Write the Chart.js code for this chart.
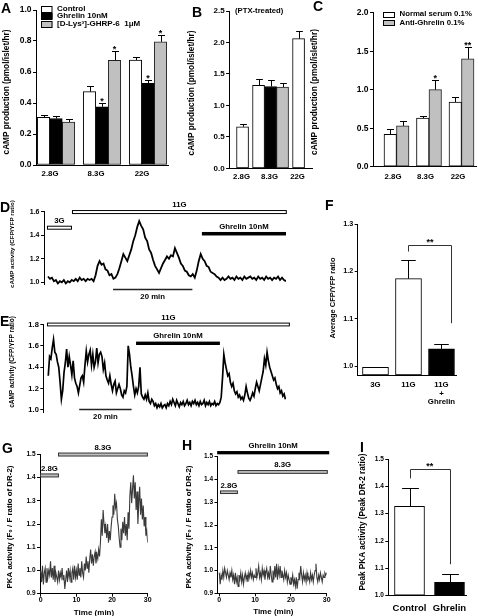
<!DOCTYPE html>
<html>
<head>
<meta charset="utf-8">
<script src="https://cdn.jsdelivr.net/npm/chart.js@4.4.1/dist/chart.umd.min.js"></script>
<style>
  html, body { margin: 0; padding: 0; background: #fff; }
  #wrap { position: relative; width: 478px; height: 616px; overflow: hidden; background: #fff; }
  #wrap canvas { position: absolute; left: 0; top: 0; }
</style>
</head>
<body>
<div id="wrap"></div>
<script>
// ---------- data ----------
// A: cAMP production (pmol/islet/hr)
const A_GROUPS = ['2.8G', '8.3G', '22G'];
const A_CONTROL = [0.307, 0.473, 0.677];
const A_CONTROL_ERR = [0.014, 0.035, 0.017];
const A_GHRELIN = [0.300, 0.376, 0.527];
const A_GHRELIN_ERR = [0.015, 0.022, 0.021];
const A_DLYS = [0.277, 0.675, 0.795];
const A_DLYS_ERR = [0.020, 0.060, 0.044];
const A_YTICKS = [0, 0.2, 0.4, 0.6, 0.8, 1.0];

// B: PTX-treated
const B_GROUPS = ['2.8G', '8.3G', '22G'];
const B_CONTROL = [0.66, 1.32, 2.06];
const B_CONTROL_ERR = [0.04, 0.10, 0.12];
const B_GHRELIN = [null, 1.30, null];
const B_GHRELIN_ERR = [0, 0.11, 0];
const B_DLYS = [null, 1.29, null];
const B_DLYS_ERR = [0, 0.07, 0];
const B_YTICKS = [0, 0.5, 1.0, 1.5, 2.0, 2.5];

// C: serum
const C_GROUPS = ['2.8G', '8.3G', '22G'];
const C_NORMAL = [0.42, 0.63, 0.84];
const C_NORMAL_ERR = [0.065, 0.03, 0.065];
const C_ANTI = [0.53, 1.00, 1.40];
const C_ANTI_ERR = [0.07, 0.13, 0.155];
const C_YTICKS = [0, 0.5, 1.0, 1.5, 2.0];

// D: cAMP trace, one sample every 0.5 min
const D_DT = 0.5;
const D_VALUES = [
  1.05, 1.03, 1.04, 1.01, 1.02, 0.99, 1.01, 1.00, 1.02, 0.99, 1.01, 1.00,
  1.02, 1.01, 1.03, 1.01, 1.04, 1.02, 1.03, 1.01, 1.03, 1.02, 1.03, 1.01,
  1.06, 1.14, 1.18, 1.15, 1.16, 1.11, 1.10, 1.06, 1.07, 1.03, 1.04, 1.07,
  1.12, 1.18, 1.24, 1.21, 1.18, 1.23, 1.28, 1.35, 1.40, 1.47, 1.52, 1.48,
  1.45, 1.38, 1.35, 1.28, 1.25, 1.19, 1.14, 1.11, 1.08, 1.12, 1.16, 1.19,
  1.22, 1.20, 1.23, 1.22, 1.29, 1.25, 1.21, 1.16, 1.14, 1.10, 1.09, 1.06,
  1.05, 1.07, 1.04, 1.10, 1.18, 1.24, 1.20, 1.18, 1.14, 1.13, 1.09, 1.08,
  1.07, 1.05, 1.04, 1.02, 1.04, 1.02, 1.03, 1.05, 1.03, 1.04, 1.02, 1.05,
  1.03, 1.04, 1.02, 1.05, 1.03, 1.04, 1.05, 1.03, 1.04, 1.02, 1.05, 1.03,
  1.04, 1.02, 1.05, 1.03, 1.04, 1.02, 1.04, 1.03, 1.05, 1.02, 1.04, 1.02,
  1.01
];
const D_YTICKS = [1.0, 1.2, 1.4, 1.6];
const D_PERIODS = [
  { label: '3G', from: -0.25, to: 6.05 },
  { label: '11G', from: 6.05, to: 60.2 },
  { label: 'Ghrelin 10nM', from: 38.8, to: 60 }
];

// E: cAMP trace, one sample every 0.5 min
const E_DT = 0.5;
const E_VALUES = [
  1.32, 1.50, 1.48, 1.58, 1.66, 1.54, 1.52, 1.45, 1.40, 1.26, 1.10, 1.18,
  1.35, 1.44, 1.57, 1.40, 1.50, 1.42, 1.33, 1.46, 1.30, 1.25, 1.22, 1.16,
  1.23, 1.30, 1.32, 1.26, 1.42, 1.55, 1.45, 1.52, 1.56, 1.42, 1.52, 1.40,
  1.45, 1.58, 1.44, 1.52, 1.54, 1.50, 1.38, 1.44, 1.32, 1.28, 1.25, 1.32,
  1.24, 1.18, 1.24, 1.27, 1.16, 1.20, 1.24, 1.20, 1.14, 1.12, 1.18, 1.16,
  1.22, 1.60, 1.52, 1.40, 1.32, 1.22, 1.14, 1.20, 1.16, 1.22, 1.40, 1.15,
  1.12, 1.10, 1.14, 1.10, 1.16, 1.08, 1.06, 1.10, 1.08, 1.04, 1.06, 1.02,
  1.05, 1.03, 1.06, 1.02, 1.04, 1.05, 1.02, 1.06,
  1.04, 1.08, 1.05, 1.10, 1.07, 1.04, 1.09, 1.06, 1.03, 1.07, 1.05, 1.08,
  1.04, 1.06, 1.09, 1.05, 1.07, 1.04, 1.08, 1.06, 1.09, 1.05, 1.07, 1.04,
  1.08, 1.05, 1.06, 1.09, 1.04, 1.07, 1.05, 1.08, 1.04, 1.06, 1.05, 1.08,
  1.04, 1.06, 1.05, 1.07, 1.12, 1.30, 1.52, 1.44, 1.38, 1.32, 1.34, 1.26,
  1.22, 1.25, 1.18, 1.15, 1.17, 1.12, 1.14, 1.10, 1.12, 1.09, 1.14, 1.22,
  1.16, 1.11, 1.09, 1.12, 1.16, 1.13, 1.20, 1.26, 1.22, 1.18, 1.24, 1.30,
  1.36, 1.48, 1.42, 1.54, 1.46, 1.40, 1.36, 1.32, 1.28, 1.30, 1.24, 1.20,
  1.22, 1.16, 1.18, 1.13, 1.15, 1.10
];
const E_YTICKS = [1.0, 1.2, 1.4, 1.6, 1.8];
const E_PERIODS = [
  { label: '11G', from: -0.5, to: 92.2 },
  { label: 'Ghrelin 10nM', from: 33.5, to: 65.5 }
];

// F: average CFP/YFP ratio
const F_GROUPS = ['3G', '11G', ['11G', '+', 'Ghrelin']];
const F_VALUES = [0.998, 1.185, 1.037];
const F_ERR = [0, 0.040, 0.010];
const F_YTICKS = [1.0, 1.1, 1.2, 1.3];

// G / H: PKA traces, one sample every 0.25 min
const G_DT = 0.25;
const G_VALUES = [
  1.00, 0.95, 1.02, 0.94, 0.99, 1.01, 0.95, 1.01, 0.97, 1.00, 0.98, 1.04,
  0.97, 1.01, 0.96, 1.02, 0.95, 0.99, 0.97, 0.95, 1.00, 0.96, 0.99, 0.97,
  1.01, 0.96, 0.98, 0.92, 0.96, 1.00, 0.95, 1.01, 0.97, 1.00, 0.95, 0.99,
  1.01, 0.96, 1.02, 0.97, 1.00, 0.96, 1.03, 0.98, 1.01, 0.97, 1.04, 0.99,
  0.97, 1.03, 1.00, 1.06, 1.01, 1.04, 0.99, 1.05, 1.09, 1.03, 1.07, 1.02,
  1.06, 1.08, 1.03, 1.07, 1.05, 1.09, 1.06, 1.12, 1.22, 1.15, 1.26, 1.20,
  1.16, 1.19, 1.14, 1.20, 1.12, 1.17, 1.13, 1.19, 1.23, 1.28, 1.24, 1.33,
  1.27, 1.29, 1.22, 1.19, 1.14, 1.10, 1.18, 1.13, 1.21, 1.16, 1.23, 1.15,
  1.20, 1.13, 1.25, 1.18, 1.32, 1.38, 1.29, 1.35, 1.41, 1.31, 1.38, 1.26,
  1.34, 1.20, 1.29, 1.36, 1.24, 1.31, 1.22, 1.28, 1.19, 1.23, 1.15, 1.17,
  1.12
];
const H_DT = 0.25;
const H_VALUES = [
  0.99, 0.94, 0.98, 0.96, 1.00, 0.97, 1.01, 0.99, 0.97, 1.00, 0.98, 0.96,
  0.99, 0.97, 1.00, 0.96, 0.98, 0.94, 0.99, 0.95, 0.97, 0.93, 0.98, 0.96,
  0.99, 0.95, 0.98, 0.94, 0.97, 0.99, 0.96, 0.98, 0.95, 0.99, 0.97, 1.00,
  0.97, 0.99, 0.96, 0.98, 0.97, 1.01, 0.97, 0.99, 1.02, 0.97, 0.99, 0.96,
  1.01, 0.98, 1.00, 0.96, 0.99, 1.01, 0.97, 0.99, 0.96, 1.02, 0.98, 0.95,
  1.00, 0.96, 1.02, 0.97, 1.03, 0.96, 1.01, 0.98, 1.02, 0.97, 1.00, 0.98,
  0.96, 1.00, 0.97, 0.99, 0.95, 0.98, 0.96, 0.94, 0.97, 0.95, 0.98, 0.94,
  0.96, 0.93, 0.97, 0.92, 0.96, 0.99, 0.97, 1.02, 0.98, 0.95, 0.99, 0.96,
  0.98, 0.95, 0.99, 0.96, 0.97, 0.95, 0.99, 0.96, 0.98, 0.95, 0.98, 1.00,
  1.03, 0.97, 0.95, 0.98, 0.96, 0.99, 0.97, 0.95, 0.98, 0.97, 0.99, 0.98,
  0.99
];
const GH_YTICKS = [0.9, 1.0, 1.1, 1.2, 1.3, 1.4, 1.5];
const GH_XTICKS = [0, 10, 20, 30];
const G_PERIODS = [
  { label: '2.8G', from: -0.2, to: 5.1 },
  { label: '8.3G', from: 4.85, to: 30.05 }
];
const H_PERIODS = [
  { label: 'Ghrelin 10nM', from: -0.6, to: 30.7 },
  { label: '8.3G', from: 5.1, to: 30.3 },
  { label: '2.8G', from: 0.2, to: 5.2 }
];

// I: peak PKA activity
const I_GROUPS = ['Control', 'Ghrelin'];
const I_VALUES = [1.327, 1.049];
const I_ERR = [0.066, 0.031];
const I_YTICKS = [1.0, 1.1, 1.2, 1.3, 1.4, 1.5];

// ---------- setup ----------
const FONT = '"Liberation Sans", Arial, Helvetica, sans-serif';
const W = 478, H = 616;
const GRAY = '#c0c0c0';

Chart.defaults.font.family = FONT;
Chart.defaults.font.weight = 'bold';
Chart.defaults.color = '#000';
Chart.defaults.animation = false;
Chart.defaults.responsive = false;
Chart.defaults.events = [];

function mount() {
  const c = document.createElement('canvas');
  c.width = W;
  c.height = H;
  document.getElementById('wrap').appendChild(c);
  return c.getContext('2d');
}

// box = plot area [left, top, right, bottom] in page pixels
function padFor(box, yw, xh) {
  return { left: box[0] - yw, top: box[1], right: W - box[2], bottom: H - box[3] - xh };
}

function yAxis(min, max, ticks, size) {
  return {
    type: 'linear', min, max,
    afterBuildTicks: s => { s.ticks = ticks.map(v => ({ value: v })); },
    afterFit: s => { s.width = 30; },
    ticks: { font: { size, lineHeight: 1 }, padding: 1.5, callback: v => v.toFixed(1) },
    grid: { drawOnChartArea: false, tickLength: 3, color: '#000', lineWidth: 1 },
    border: { color: '#000', width: 1 }
  };
}

function xCats(labels, min, max, size, pad, lineHeight, shift) {
  return {
    type: 'linear', min, max, offset: false,
    afterBuildTicks: s => { s.ticks = labels.map((_, i) => ({ value: i })); },
    afterFit: s => { s.height = 30; },
    ticks: {
      font: { size, lineHeight: lineHeight || 1 }, padding: pad, labelOffset: shift || 0,
      autoSkip: false, minRotation: 0, maxRotation: 0,
      callback: (v, i) => labels[i]
    },
    grid: { display: false, drawTicks: false, offset: false },
    border: { color: '#000', width: 1 }
  };
}

function xTime(min, max, ticks, show) {
  if (!show) return { type: 'linear', min, max, display: false };
  return {
    type: 'linear', min, max,
    afterBuildTicks: s => { s.ticks = ticks.map(v => ({ value: v })); },
    afterFit: s => { s.height = 12; },
    ticks: { font: { size: 7, lineHeight: 1 }, padding: 0, autoSkip: false, maxRotation: 0, callback: v => String(v) },
    grid: { drawOnChartArea: false, tickLength: 3, color: '#000' },
    border: { color: '#000', width: 1 }
  };
}

function text(ctx, s, x, y, size, opt) {
  opt = opt || {};
  ctx.save();
  ctx.font = 'bold ' + size + 'px ' + FONT;
  ctx.fillStyle = opt.color || '#000';
  ctx.textAlign = opt.align || 'center';
  ctx.textBaseline = opt.base || 'middle';
  if (opt.rot) {
    ctx.translate(x, y);
    ctx.rotate(opt.rot);
    ctx.fillText(s, 0, 0);
  } else {
    ctx.fillText(s, x, y);
  }
  ctx.restore();
}

// rotated axis title, sized so it spans len pixels
function vTitle(ctx, s, cx, cy, len) {
  ctx.save();
  ctx.font = 'bold 10px ' + FONT;
  const size = 10 * len / ctx.measureText(s).width;
  ctx.restore();
  text(ctx, s, cx, cy, size, { rot: -Math.PI / 2 });
}

function letter(ctx, s, x, y) {
  text(ctx, s, x, y, 14, { align: 'left', base: 'alphabetic' });
}

function star(ctx, s, x, yc, size) {
  text(ctx, s, x, yc + 0.575 * size, size, { base: 'alphabetic' });
}

// error bars (upward, capped) + significance stars on top of each bar
function errorBars(ch, ctx, starGap) {
  const ys = ch.scales.y;
  ctx.save();
  ctx.strokeStyle = '#000';
  ctx.lineWidth = 1;
  ch.data.datasets.forEach((ds, di) => {
    const meta = ch.getDatasetMeta(di);
    meta.data.forEach((bar, i) => {
      const v = ds.data[i].y;
      const e = ds.errors ? ds.errors[i] : 0;
      if (v == null || !e) return;
      const top = ys.getPixelForValue(v + e);
      const x = Math.round(bar.x) + 0.5;
      const cap = Math.max(3, bar.width * 0.28);
      ctx.beginPath();
      ctx.moveTo(x, bar.y);
      ctx.lineTo(x, Math.round(top) + 0.5);
      ctx.moveTo(x - cap, Math.round(top) + 0.5);
      ctx.lineTo(x + cap, Math.round(top) + 0.5);
      ctx.stroke();
      if (ds.stars && ds.stars[i]) star(ctx, ds.stars[i], bar.x, top - starGap, 9);
    });
  });
  ctx.restore();
}

// horizontal treatment bar drawn through the chart's own scales
function period(ch, ctx, p, level, h, fill, stroke, labelSize) {
  const xs = ch.scales.x, ys = ch.scales.y;
  const x1 = xs.getPixelForValue(p.from), x2 = xs.getPixelForValue(p.to);
  const yc = ys.getPixelForValue(level);
  ctx.save();
  ctx.fillStyle = fill;
  ctx.fillRect(x1, yc - h / 2, x2 - x1, h);
  if (stroke) {
    ctx.strokeStyle = stroke;
    ctx.lineWidth = 1;
    ctx.strokeRect(x1 + 0.5, yc - h / 2, x2 - x1 - 1, h);
  }
  ctx.restore();
  text(ctx, p.label, (x1 + x2) / 2, yc - h / 2 - 5.5, labelSize || 7.8);
}

function scaleBar(ch, ctx, from, to, level, label) {
  const xs = ch.scales.x, ys = ch.scales.y;
  const x1 = xs.getPixelForValue(from), x2 = xs.getPixelForValue(to);
  const y = Math.round(ys.getPixelForValue(level)) + 0.5;
  ctx.save();
  ctx.strokeStyle = '#222';
  ctx.lineWidth = 1.3;
  ctx.beginPath();
  ctx.moveTo(x1, y);
  ctx.lineTo(x2, y);
  ctx.stroke();
  ctx.restore();
  text(ctx, label, (x1 + x2) / 2, y + 7.7, 7.8);
}

function bracket(ch, ctx, x1, x2, yTop, y1, y2, label) {
  const xs = ch.scales.x, ys = ch.scales.y;
  const px1 = Math.round(xs.getPixelForValue(x1)) + 0.5, px2 = Math.round(xs.getPixelForValue(x2)) + 0.5;
  const t = Math.round(ys.getPixelForValue(yTop)) + 0.5;
  ctx.save();
  ctx.strokeStyle = '#333';
  ctx.lineWidth = 1;
  ctx.beginPath();
  ctx.moveTo(px1, ys.getPixelForValue(y1));
  ctx.lineTo(px1, t);
  ctx.lineTo(px2, t);
  ctx.lineTo(px2, ys.getPixelForValue(y2));
  ctx.stroke();
  ctx.restore();
  star(ctx, label, xs.getPixelForValue((x1 + x2) / 2), t - 5.5, 9);
}

function legendRows(ch, ctx, x, ys, bw, bh, size) {
  ch.data.datasets.forEach((ds, i) => {
    const y = ys[i];
    ctx.save();
    ctx.fillStyle = ds.backgroundColor;
    ctx.fillRect(x, y - bh / 2, bw, bh);
    ctx.strokeStyle = '#000';
    ctx.lineWidth = 1;
    ctx.strokeRect(x + 0.5, Math.round(y - bh / 2) + 0.5, bw - 1, bh);
    ctx.restore();
    text(ctx, ds.label, x + bw + 4.5, y, size, { align: 'left' });
  });
}

function barSet(label, values, errors, fill, stroke, stars, thick, base) {
  return {
    label,
    data: values.map((v, i) => ({ x: i, y: v })),
    errors, stars: stars || [],
    backgroundColor: fill, borderColor: stroke || '#000', borderWidth: 1,
    borderSkipped: false, barThickness: thick, skipNull: true, base: base
  };
}

function trace(values, dt, color, width) {
  return {
    data: values.map((v, i) => ({ x: i * dt, y: v })),
    borderColor: color, borderWidth: width, pointRadius: 0, tension: 0, fill: false
  };
}

function panel(type, box, xh, scales, datasets, draw) {
  return new Chart(mount(), {
    type,
    data: { datasets },
    options: {
      layout: { padding: padFor(box, 30, xh), autoPadding: false },
      scales,
      plugins: { legend: { display: false }, tooltip: { enabled: false } }
    },
    plugins: [{ id: 'extra', afterDraw: ch => draw(ch, ch.ctx) }]
  });
}

// ---------- A ----------
panel('bar', [36, 10, 168.7, 165], 30, {
  x: xCats(A_GROUPS, -0.435, 2.45, 7.8, 5.3, 1, -6),
  y: yAxis(0, 1.0, A_YTICKS, 8.5)
}, [
  barSet('Control', A_CONTROL, A_CONTROL_ERR, '#fff', '#000', null, 12.5, 0),
  barSet('Ghrelin 10nM', A_GHRELIN, A_GHRELIN_ERR, '#000', '#000', ['', '*', '*'], 12.5, 0),
  barSet('[D-Lys\u00b3]-GHRP-6  1\u03bcM', A_DLYS, A_DLYS_ERR, GRAY, '#222', ['', '*', '*'], 12.5, 0)
], (ch, ctx) => {
  errorBars(ch, ctx, 4.5);
  legendRows(ch, ctx, 41, [8.7, 16.2, 24.2], 11.5, 6, 8);
  letter(ctx, 'A', 1, 13);
  vTitle(ctx, 'cAMP production (pmol/islet/hr)', 7, 92, 125);
});

// ---------- B ----------
panel('bar', [229.1, 11, 312, 168.3], 30, {
  x: xCats(B_GROUPS, -0.48, 2.48, 7.8, 5, 1, -1),
  y: yAxis(0, 2.5, B_YTICKS, 8)
}, [
  barSet('Control', B_CONTROL, B_CONTROL_ERR, '#fff', '#000', null, 12, 0),
  barSet('Ghrelin 10nM', B_GHRELIN, B_GHRELIN_ERR, '#000', '#000', null, 12, 0),
  barSet('D-Lys', B_DLYS, B_DLYS_ERR, GRAY, '#222', null, 12, 0)
], (ch, ctx) => {
  errorBars(ch, ctx, 4.5);
  letter(ctx, 'B', 192, 16.5);
  text(ctx, '(PTX-treated)', 235, 11, 7.7, { align: 'left' });
  vTitle(ctx, 'cAMP production (pmol/islet/hr)', 192, 93, 125);
});

// ---------- C ----------
panel('bar', [373, 12.7, 476, 166.7], 30, {
  x: xCats(C_GROUPS, -0.723, 2.446, 7.8, 6.5, 1, -3.5),
  y: yAxis(0, 2.0, C_YTICKS, 8.5)
}, [
  barSet('Normal serum 0.1%', C_NORMAL, C_NORMAL_ERR, '#fff', '#000', null, 12.5, 0),
  barSet('Anti-Ghrelin 0.1%', C_ANTI, C_ANTI_ERR, GRAY, '#222', ['', '*', '**'], 12.5, 0)
], (ch, ctx) => {
  errorBars(ch, ctx, 4);
  legendRows(ch, ctx, 383, [14.2, 22.5], 12, 5, 7.8);
  letter(ctx, 'C', 313, 11);
  vTitle(ctx, 'cAMP production (pmol/islet/hr)', 315, 92, 126);
});

// ---------- D ----------
panel('line', [44, 211.7, 286, 284.7], 0, {
  x: xTime(-1, 60, null, false),
  y: yAxis(0.98, 1.6, D_YTICKS, 7)
}, [trace(D_VALUES, D_DT, '#000', 1.8)], (ch, ctx) => {
  period(ch, ctx, D_PERIODS[0], 1.464, 3, '#fff', '#000');
  period(ch, ctx, D_PERIODS[1], 1.597, 3, '#fff', '#000');
  period(ch, ctx, D_PERIODS[2], 1.413, 3.5, '#000', null);
  scaleBar(ch, ctx, 16.4, 36.4, 0.94, '20 min');
  letter(ctx, 'D', 0, 212);
  vTitle(ctx, 'cAMP activity (CFP/YFP ratio)', 12.5, 244, 88);
});

// ---------- E ----------
panel('line', [43.3, 324.5, 286.2, 412.1], 0, {
  x: xTime(-1.9, 90.8, null, false),
  y: yAxis(0.98, 1.8, E_YTICKS, 7.5)
}, [trace(E_VALUES, E_DT, '#000', 1.7)], (ch, ctx) => {
  period(ch, ctx, E_PERIODS[0], 1.8, 2.8, '#fff', '#000');
  period(ch, ctx, E_PERIODS[1], 1.624, 3.4, '#000', null);
  scaleBar(ch, ctx, 11.8, 31.8, 1.005, '20 min');
  letter(ctx, 'E', 0, 325.5);
  vTitle(ctx, 'cAMP activity (CFP/YFP ratio)', 12.5, 362, 92);
});

// ---------- F ----------
panel('bar', [357.7, 224, 456.7, 375], 30, {
  x: xCats(F_GROUPS, -0.539, 2.461, 7.8, 5.7, 1.1),
  y: yAxis(0.982, 1.3, F_YTICKS, 7.2)
}, [
  barSet('F', F_VALUES, F_ERR, ['#fff', '#fff', '#000'], '#000', null, 26, 0.982)
], (ch, ctx) => {
  errorBars(ch, ctx, 4);
  bracket(ch, ctx, 1, 2.3, 1.256, 1.242, 1.091, '**');
  letter(ctx, 'F', 325, 210);
  vTitle(ctx, 'Average CFP/YFP ratio', 332.7, 298, 81);
});

// ---------- G ----------
panel('line', [40, 454.3, 147.7, 593.7], 12, {
  x: xTime(-0.2, 30, GH_XTICKS, true),
  y: yAxis(0.9, 1.5, GH_YTICKS, 6.5)
}, [trace(G_VALUES, G_DT, '#3a3a3a', 1.1)], (ch, ctx) => {
  period(ch, ctx, G_PERIODS[0], 1.409, 3, GRAY, '#333');
  period(ch, ctx, G_PERIODS[1], 1.499, 3, GRAY, '#333');
  letter(ctx, 'G', 2, 453);
  vTitle(ctx, 'PKA activity (F\u2080 / F ratio of DR-2)', 10.3, 527, 123);
  text(ctx, 'Time (min)', 94, 612.3, 8);
});

// ---------- H ----------
panel('line', [217.5, 456.7, 326.7, 593.3], 12, {
  x: xTime(-0.5, 30, GH_XTICKS, true),
  y: yAxis(0.9, 1.5, GH_YTICKS, 6.5)
}, [trace(H_VALUES, H_DT, '#3a3a3a', 1.1)], (ch, ctx) => {
  period(ch, ctx, H_PERIODS[0], 1.5176, 3.3, '#000', null);
  period(ch, ctx, H_PERIODS[1], 1.433, 2.8, GRAY, '#333');
  period(ch, ctx, H_PERIODS[2], 1.344, 2.6, GRAY, '#333');
  letter(ctx, 'H', 182, 450);
  vTitle(ctx, 'PKA activity (F\u2080 / F ratio of DR-2)', 189.3, 527, 123);
  text(ctx, 'Time (min)', 273.3, 612, 8);
});

// ---------- I ----------
panel('bar', [388.3, 459, 466.7, 595.7], 30, {
  x: xCats(I_GROUPS, -0.53, 1.43, 9.5, 7.8),
  y: yAxis(1.0, 1.5, I_YTICKS, 6.5)
}, [
  barSet('I', I_VALUES, I_ERR, ['#fff', '#000'], '#000', null, 30, 1.0)
], (ch, ctx) => {
  errorBars(ch, ctx, 4);
  bracket(ch, ctx, 0, 1.01, 1.463, 1.429, 1.115, '**');
  letter(ctx, 'I', 360, 452);
  vTitle(ctx, 'Peak PKA activity (Peak DR-2 ratio)', 363, 522, 137);
});
</script>
</body>
</html>
